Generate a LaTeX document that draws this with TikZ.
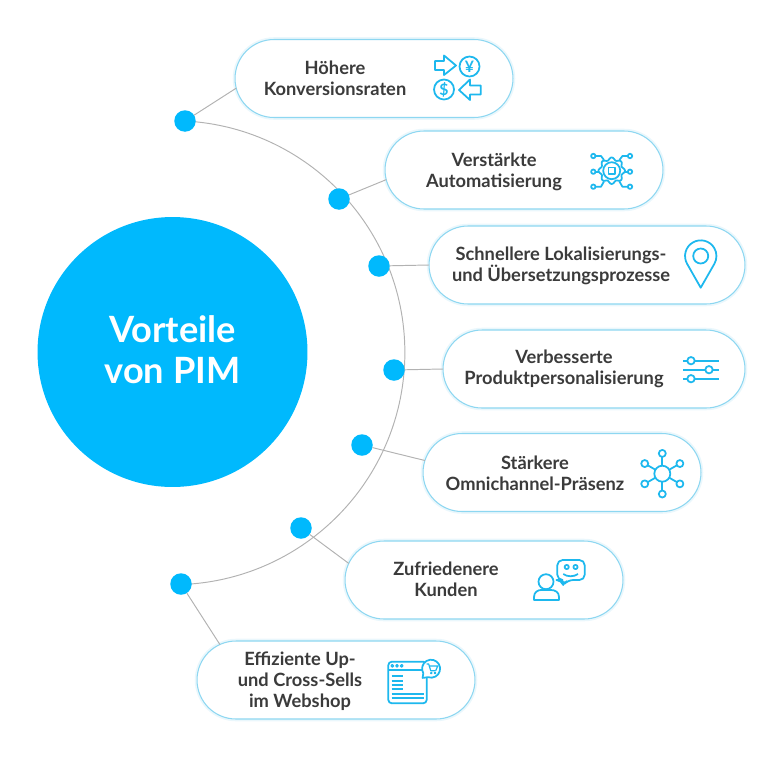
\documentclass[tikz,border=0pt]{standalone}
\usepackage{fontspec}
\setmainfont{Lato}
\usetikzlibrary{shapes.misc}
\definecolor{pimblue}{HTML}{00B9FD}
\definecolor{pillline}{HTML}{8DD7F1}
\definecolor{pillglow}{HTML}{EAF7FC}
\definecolor{iconblue}{HTML}{1DB8EE}
\definecolor{labeltext}{HTML}{3B3B3B}
\definecolor{linkgray}{HTML}{B2B2B2}
\tikzset{
  pill/.style={rounded rectangle, minimum width=#1, minimum height=1.56cm, inner sep=0pt, outer sep=0pt,
    draw=pillline, line width=0.6pt, fill=white, preaction={draw=pillglow, line width=2.6pt}},
  dot/.style={circle, fill=pimblue, minimum size=0.43cm, inner sep=0pt, outer sep=0pt},
  link/.style={draw=linkgray, line width=0.55pt},
  pilltext/.style={align=center, text=labeltext, font=\fontsize{10.4}{11.9}\selectfont\bfseries},
  icon/.style={draw=iconblue, line width=1pt, line join=round}
}
\begin{document}
\begin{tikzpicture}[x=0.02cm, y=-0.02cm]
    \useasboundingbox (0,0) rectangle (767,761);

    \coordinate (arcstart) at (185,121);
    \draw[link] (arcstart) arc[start angle=-87, end angle=88, radius=232];

    \node[circle, fill=pimblue, minimum size=5.4cm, inner sep=0pt] (pim) at (172.5,352) {};
    \node[text=white, align=center, font=\fontsize{20.6}{23.3}\selectfont\bfseries] (pimtext) at (172.5,350) {Vorteile\\von PIM};

    \node[pill=5.56cm] (konv) at (374,78.5) {};
    \node[pill=5.56cm] (auto) at (524,170) {};
    \node[pill=6.32cm] (lokal) at (587,265) {};
    \node[pill=6.04cm] (perso) at (594,369) {};
    \node[pill=5.56cm] (omni) at (562,472.5) {};
    \node[pill=5.56cm] (kunden) at (484,580) {};
    \node[pill=5.56cm] (shop) at (336,680) {};

    \node[dot] (dotkonv) at (185,121) {};
    \node[dot] (dotauto) at (339,199) {};
    \node[dot] (dotlokal) at (379,266) {};
    \node[dot] (dotperso) at (394,370) {};
    \node[dot] (dotomni) at (362,445) {};
    \node[dot] (dotkunden) at (301,528) {};
    \node[dot] (dotshop) at (181,584) {};

    \draw[link] (dotkonv) -- (konv.184);
    \draw[link] (dotauto) -- (auto.184);
    \draw[link] (dotlokal) -- (lokal.west);
    \draw[link] (dotperso) -- (perso.west);
    \draw[link] (dotomni) -- (omni.175.6);
    \draw[link] (dotkunden) -- (kunden.173);
    \draw[link] (dotshop) -- (shop.163.7);

    \node[pilltext] (tkonv) at (335,78) {H\"ohere\\Konversionsraten};
    \node[pilltext] (tauto) at (494,171.5) {Verst\"arkte\\Automatisierung};
    \node[pilltext] (tlokal) at (561,266) {Schnellere Lokalisierungs-\\und \"Ubersetzungsprozesse};
    \node[pilltext] (tperso) at (564,369) {Verbesserte\\Produktpersonalisierung};
    \node[pilltext] (tomni) at (535,473) {St\"arkere\\Omnichannel-Pr\"asenz};
    \node[pilltext] (tkunden) at (446,579) {Zufriedenere\\Kunden};
    \node[pilltext] (tshop) at (300,681.5) {Effiziente Up-\\und Cross-Sells\\im Webshop};

    \draw[icon] (435,61) -- (444,61) -- (444,55.5) -- (456,65.5) -- (444,75) -- (444,70) -- (435,70) -- cycle;
    \draw[icon] (480.7,85.5) -- (470,85.5) -- (470,79.5) -- (459,90) -- (470,100) -- (470,94.5) -- (480.7,94.5) -- cycle;
    \draw[icon] (469.5,66.5) circle (10);
    \draw[icon] (444,89.5) circle (10);
    \node[text=iconblue, font=\fontsize{9}{10}\selectfont\bfseries, inner sep=0pt] (yen) at (469.5,66.5) {¥};
    \node[text=iconblue, font=\fontsize{9}{10}\selectfont\bfseries, inner sep=0pt] (dollar) at (444,89.5) {\$};

    \begin{scope}[shift={(611.7,170.7)}]
      \draw[icon] plot[smooth cycle, samples=64, domain=0:354.375] (\x:{12+1.3*cos(8*\x)});
      \draw[icon] (0,0) circle (8.5);
      \draw[icon] (-3.2,-3.2) rectangle (3.2,3.2);
    \end{scope}
    \foreach \ty/\by in {156/160, 186.7/181.4} {
      \draw[icon] (595.5,\ty) -- (601,\ty) -- (604,\by);
      \draw[icon] (627.8,\ty) -- (622.4,\ty) -- (619.4,\by);
      \draw[icon] (593.3,\ty) circle (2.2);
      \draw[icon] (630,\ty) circle (2.2);
    }
    \draw[icon] (595.5,171.7) -- (598.5,171.7);
    \draw[icon] (624.9,171.7) -- (627.8,171.7);
    \draw[icon] (593.3,171.7) circle (2.2);
    \draw[icon] (630,171.7) circle (2.2);

    \draw[icon] (700.7,287.7) -- ++(-13.6,-23.9) arc[start angle=150.3, end angle=389.7, radius=15.7] -- cycle;
    \draw[icon] (700.7,256) circle (7.5);

    \foreach \sy/\sx in {360.7/691, 369.7/709, 378.7/691} {
      \draw[icon] (683.3,\sy) -- (719.3,\sy);
      \draw[icon, fill=white] (\sx,\sy) circle (3.7);
    }

    \foreach \ang in {30,90,150,210,270,330} {
      \draw[icon] (662.3,473.7) ++(\ang:8) -- ++(\ang:8.8);
      \draw[icon] (662.3,473.7) ++(\ang:20.3) circle (3.5);
    }
    \draw[icon] (662.3,473.7) circle (8);

    \draw[icon] (546,581.7) circle (7.5);
    \draw[icon] (534,600) -- (534,597) .. controls (534,592) and (538,590) .. (541,590) -- (551,590)
      .. controls (555,590) and (559,592) .. (559,597) -- (559,600) -- cycle;
    \draw[icon, rounded corners=3] (561.7,580) -- (557.3,580) -- (557.3,560) -- (584.7,560) -- (584.7,580) -- (568,580) -- (563.3,585) -- cycle;
    \draw[icon] (566.7,567) circle (2.1);
    \draw[icon] (575.5,567) circle (2.1);
    \draw[icon] (563.3,574) .. controls (567,577) and (574,577) .. (578,574);

    \draw[icon, rounded corners=2] (388.3,661.7) rectangle (426.7,703.3);
    \draw[icon] (388.3,670) -- (424,670);
    \foreach \wx in {392.3,397,401.7} {
      \draw[icon, line width=0.7pt] (\wx,665.8) circle (1.3);
    }
    \foreach \wy in {676,680.7,685,689.3} {
      \draw[icon] (391.7,\wy) -- (403.3,\wy);
    }
    \foreach \wy in {694,698.3} {
      \draw[icon] (391.7,\wy) -- (424.3,\wy);
    }
    \draw[icon, fill=white] (422.6,677.9) -- (423.3,673.2) arc[start angle=150, end angle=470, radius=9] -- cycle;
    \draw[icon, line width=0.7pt] (426.7,664) -- (428.7,664) -- (430.7,670.7) -- (435.7,670.7);
    \draw[icon, line width=0.7pt] (429.5,666) -- (437.7,666) -- (435.7,670.7);
    \draw[icon, line width=0.6pt] (431.3,673) circle (0.8);
    \draw[icon, line width=0.6pt] (435,673) circle (0.8);
\end{tikzpicture}
\end{document}
